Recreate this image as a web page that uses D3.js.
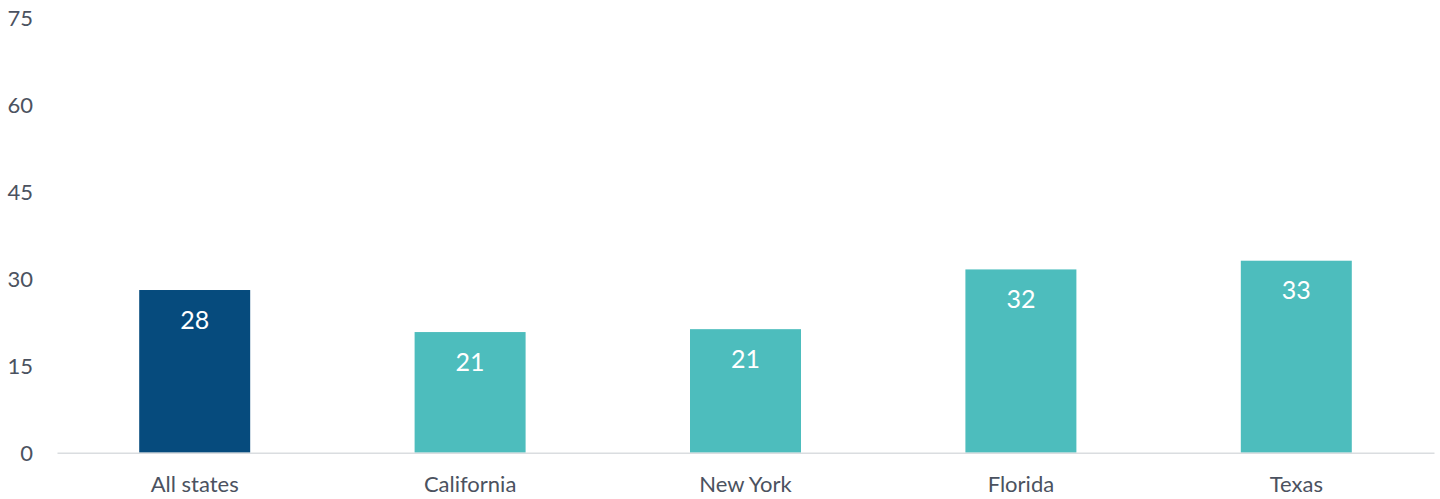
<!DOCTYPE html>
<html>
<head>
<meta charset="utf-8">
<script src="https://cdn.jsdelivr.net/npm/d3@7"></script>
<style>
  html, body { margin: 0; padding: 0; background: #fff; }
  svg { display: block; }
  text { font-family: Lato, "Noto Sans", sans-serif; }
</style>
</head>
<body>
<div id="chart"></div>
<script>
const categories = ["All states", "California", "New York", "Florida", "Texas"];
const values = [28.05, 20.8, 21.3, 31.6, 33.1];
const valueLabels = ["28", "21", "21", "32", "33"];
const yTicks = [0, 15, 30, 45, 60, 75];
const highlight = ["All states"];

const W = 1440, H = 499;
const svg = d3.select("#chart").append("svg").attr("width", W).attr("height", H);

const x = d3.scaleBand().domain(categories).range([57, 1434]).paddingInner(0.597).paddingOuter(0.2985);
const y = d3.scaleLinear().domain([0, 75]).range([452.7, 17.7]);

// y axis labels
const yAxis = d3.axisLeft(y).tickValues(yTicks).tickSize(0).tickPadding(0);
const gy = svg.append("g").attr("transform", "translate(33,0)").call(yAxis);
gy.select(".domain").remove();
gy.selectAll("text").attr("font-size", 22).attr("fill", "#4b5260").attr("font-family", "Lato, 'Noto Sans', sans-serif").attr("dy", "0.34em");

// bars
svg.append("g").selectAll("rect").data(categories).join("rect")
  .attr("x", d => x(d))
  .attr("y", (d, i) => y(values[i]))
  .attr("width", x.bandwidth())
  .attr("height", (d, i) => y(0) - y(values[i]))
  .attr("fill", d => highlight.includes(d) ? "#064b7d" : "#4dbdbd");

// x axis
const xAxis = d3.axisBottom(x).tickSize(0).tickPadding(28);
const gx = svg.append("g").attr("transform", `translate(0,${y(0)})`).call(xAxis);
gx.select(".domain").attr("stroke", "#dadde0").attr("stroke-width", 1.5);
gx.selectAll("text").attr("font-size", 22).attr("fill", "#4b5260").attr("font-family", "Lato, 'Noto Sans', sans-serif").attr("dy", "0.5em");

// value labels
svg.append("g").selectAll("text").data(categories).join("text")
  .attr("x", d => x(d) + x.bandwidth() / 2)
  .attr("y", (d, i) => y(values[i]) + 30)
  .attr("dy", "0.35em")
  .attr("text-anchor", "middle")
  .attr("font-size", 25)
  .attr("fill", "#ffffff")
  .text((d, i) => valueLabels[i]);
</script>
</body>
</html>
